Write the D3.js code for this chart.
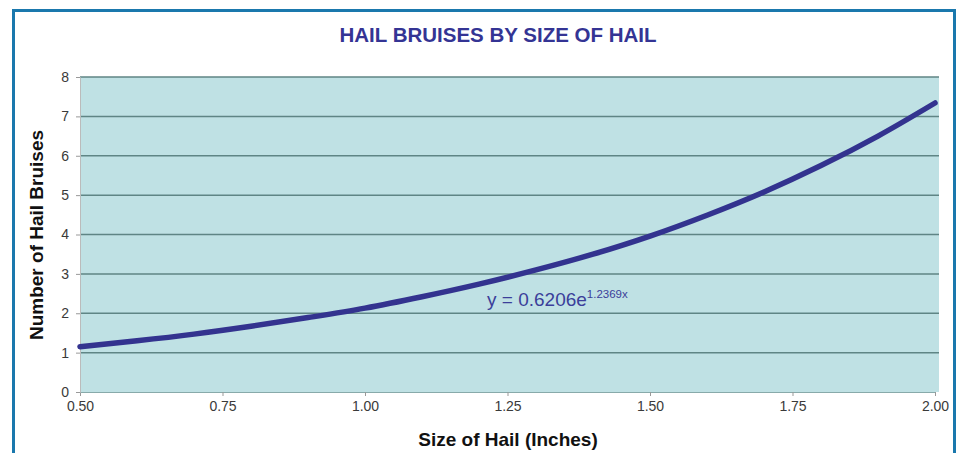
<!DOCTYPE html>
<html>
<head>
<meta charset="utf-8" />
<title>Hail bruises by size of hail</title>
<script src="https://d3js.org/d3.v7.min.js"></script>
<style>
  body { margin: 0; background: #fff; }
  text { font-family: "Liberation Sans", Arial, sans-serif; }
</style>
</head>
<body>
<svg id="chart" width="962" height="453"></svg>
<script>
// values
var hailSize = [0.5, 0.6, 0.7, 0.8, 0.9, 1.0, 1.1, 1.2, 1.3, 1.4, 1.5, 1.6, 1.7, 1.8, 1.9, 2.0];
var bruises  = [1.15, 1.30, 1.47, 1.67, 1.89, 2.13, 2.42, 2.74, 3.10, 3.50, 3.96, 4.49, 5.08, 5.75, 6.50, 7.34];
var xTicks = [0.5, 0.75, 1.0, 1.25, 1.5, 1.75, 2.0];
var yTicks = [0, 1, 2, 3, 4, 5, 6, 7, 8];

var svg = d3.select("#chart");

// outer blue frame (bottom edge is off the picture)
svg.append("rect")
  .attr("x", 13.5).attr("y", 10.5)
  .attr("width", 941).attr("height", 460)
  .attr("fill", "none")
  .attr("stroke", "#1a78ad")
  .attr("stroke-width", 3);

var plotL = 80, plotR = 935, plotT = 77, plotB = 392, bgR = 939;

var x = d3.scaleLinear().domain([0.5, 2.0]).range([plotL, plotR]);
var y = d3.scaleLinear().domain([0, 8]).range([plotB, plotT]);

// plot background
svg.append("rect")
  .attr("x", plotL).attr("y", plotT)
  .attr("width", bgR - plotL).attr("height", plotB - plotT)
  .attr("fill", "#bfe1e4");

// gridlines
svg.append("g").selectAll("line")
  .data(yTicks.filter(function(d) { return d > 0; }))
  .enter().append("line")
  .attr("x1", plotL).attr("x2", bgR)
  .attr("y1", function(d) { return y(d); })
  .attr("y2", function(d) { return y(d); })
  .attr("stroke", "#5f8585")
  .attr("stroke-width", 1.5);

// axes
var xAxis = svg.append("g")
  .attr("transform", "translate(0," + plotB + ")")
  .call(d3.axisBottom(x).tickValues(xTicks).tickFormat(d3.format(".2f")).tickSize(4).tickPadding(5));
xAxis.select(".domain").attr("stroke", "#8aa").attr("stroke-width", 1);
xAxis.selectAll(".tick line").attr("stroke", "#999");

var yAxis = svg.append("g")
  .attr("transform", "translate(" + plotL + ",0)")
  .call(d3.axisLeft(y).tickValues(yTicks).tickSize(4).tickPadding(7));
yAxis.select(".domain").attr("stroke", "#bbb").attr("stroke-width", 1);
yAxis.selectAll(".tick line").attr("stroke", "#999");

[xAxis, yAxis].forEach(function(ax) {
  ax.attr("font-size", 14).attr("font-family", "Liberation Sans, Arial, sans-serif");
  ax.selectAll(".tick text").style("font-size", "14px").attr("fill", "#3a3a3a");
});

// the curve
var line = d3.line()
  .x(function(d, i) { return x(hailSize[i]); })
  .y(function(d) { return y(d); })
  .curve(d3.curveMonotoneX);

svg.append("path")
  .datum(bruises)
  .attr("d", line)
  .attr("fill", "none")
  .attr("stroke", "#33338f")
  .attr("stroke-width", 5.5)
  .attr("stroke-linecap", "round");

// title
svg.append("text")
  .attr("x", 498).attr("y", 42)
  .attr("text-anchor", "middle")
  .attr("font-size", 20.5)
  .attr("font-weight", "bold")
  .attr("fill", "#343494")
  .text("HAIL BRUISES BY SIZE OF HAIL");

// axis titles
svg.append("text")
  .attr("transform", "translate(43,235) rotate(-90)")
  .attr("text-anchor", "middle")
  .attr("font-size", 19)
  .attr("font-weight", "bold")
  .attr("fill", "#111")
  .text("Number of Hail Bruises");

svg.append("text")
  .attr("x", 508).attr("y", 446)
  .attr("text-anchor", "middle")
  .attr("font-size", 19)
  .attr("font-weight", "bold")
  .attr("fill", "#111")
  .text("Size of Hail (Inches)");

// trendline equation
var eq = svg.append("text")
  .attr("x", 487).attr("y", 306)
  .attr("font-size", 19)
  .attr("fill", "#3b3f9a");
eq.append("tspan").text("y = 0.6206e");
eq.append("tspan").attr("dy", -8).attr("font-size", 11.5).text("1.2369x");
</script>
</body>
</html>
